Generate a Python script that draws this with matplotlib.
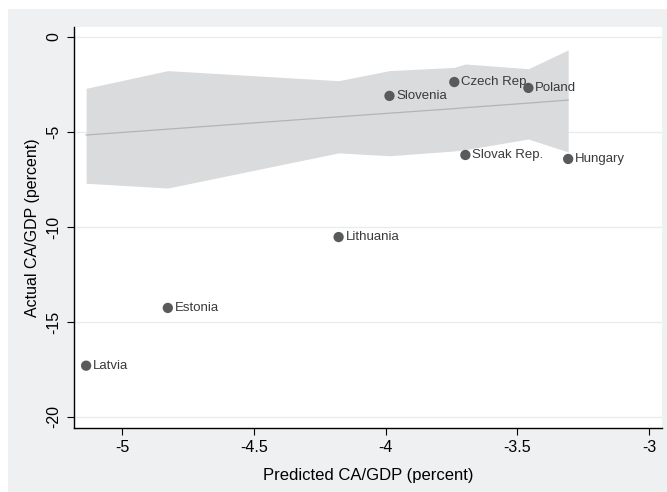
import matplotlib.pyplot as plt
from matplotlib.patches import Rectangle

plt.rcParams['font.family'] = ['Liberation Sans', 'DejaVu Sans']

# country points
countries = ['Latvia', 'Estonia', 'Lithuania', 'Slovenia', 'Czech Rep.',
             'Slovak Rep.', 'Poland', 'Hungary']
predicted = [-5.136, -4.826, -4.178, -3.985, -3.739, -3.697, -3.458, -3.307]
actual = [-17.3, -14.26, -10.53, -3.1, -2.37, -6.21, -2.68, -6.42]

# fitted line and confidence band (evaluated at the sorted predicted values)
fit = [-5.16, -4.85, -4.20, -4.01, -3.77, -3.72, -3.48, -3.32]
band_hi = [-2.70, -1.77, -2.30, -1.77, -1.60, -1.42, -1.67, -0.68]
band_lo = [-7.70, -7.95, -6.10, -6.25, -6.00, -5.93, -5.37, -6.05]

xticks = [-5, -4.5, -4, -3.5, -3]
yticks = [0, -5, -10, -15, -20]

fig = plt.figure(figsize=(6.67, 4.92), dpi=100, facecolor='white')
fig.patches.append(Rectangle((8 / 667, 0), 1, 1 - 9 / 492, transform=fig.transFigure,
                             facecolor='#eff0f2', edgecolor='none', zorder=-10))
ax = fig.add_axes([74 / 667, 1 - 428 / 492, (662 - 74) / 667, (428 - 27) / 492])
ax.set_facecolor('white')

ax.fill_between(predicted, band_lo, band_hi, color='#dadbdd', linewidth=0, zorder=1)
ax.plot(predicted, fit, color='#b3b4b6', linewidth=0.9, zorder=2)
ax.scatter(predicted, actual, s=55, color='#595a5c', edgecolors='none', zorder=3)
for name, x, y in zip(countries, predicted, actual):
    ax.annotate(name, (x, y), xytext=(5, 0), textcoords='offset points',
                va='center', ha='left', fontsize=9.5, color='#3a3a3a',
                family=['Liberation Sans Narrow', 'Liberation Sans', 'DejaVu Sans'],
                zorder=4)

ax.set_xlim(-5.182, -2.951)
ax.set_ylim(-20.58, 0.526)
ax.set_xticks(xticks)
ax.set_xticklabels(['-5', '-4.5', '-4', '-3.5', '-3'])
ax.set_yticks(yticks)
ax.set_yticklabels(['0', '-5', '-10', '-15', '-20'], rotation=90, va='center')
ax.grid(axis='y', color='#eaebec', linewidth=1)
ax.set_axisbelow(True)
for s in ['top', 'right']:
    ax.spines[s].set_visible(False)
for s in ['left', 'bottom']:
    ax.spines[s].set_color('black')
    ax.spines[s].set_linewidth(1)
ax.tick_params(length=5, width=0.8, labelsize=11.5, pad=4)
ax.set_xlabel('Predicted CA/GDP (percent)', fontsize=12, labelpad=9)
ax.set_ylabel('Actual CA/GDP (percent)', fontsize=11.5, labelpad=5)

fig.savefig('out.png', dpi=100, facecolor=fig.get_facecolor())
